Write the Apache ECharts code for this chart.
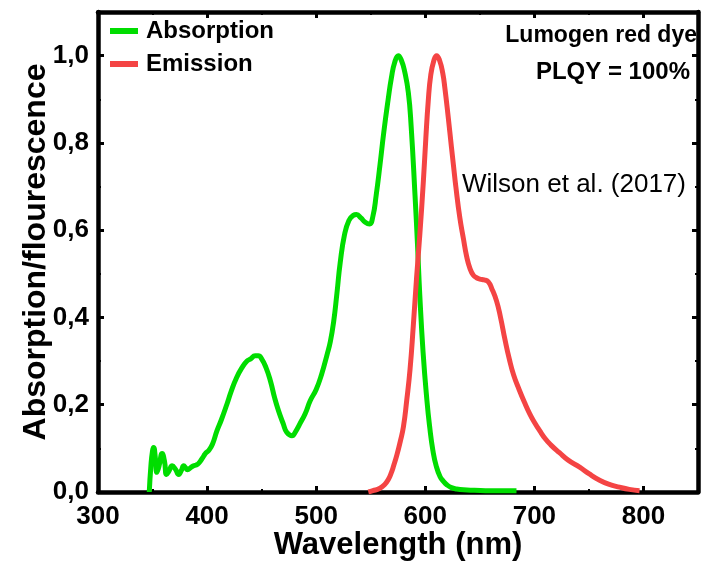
<!DOCTYPE html>
<html>
<head>
<meta charset="utf-8">
<script src="https://cdn.jsdelivr.net/npm/echarts@6/dist/echarts.min.js"></script>
<style>
html,body{margin:0;padding:0;background:#fff;}
#chart{width:709px;height:561px;}
</style>
</head>
<body>
<div id="chart"></div>
<script>
// Absorption spectrum (wavelength nm, normalized)
const absWavelength = [347, 348.5, 350, 351, 352.5, 354, 356, 358.8, 361, 362.8, 365, 368, 371, 374, 376.5, 378.6, 380.5, 382, 385, 387.7, 390, 392, 395, 397, 399, 401.5, 405, 409, 413, 418, 422, 427, 432, 436.6, 440, 444, 447, 450, 454, 458, 462, 465.5, 470, 473, 477.8, 481, 485, 490, 494.5, 500, 505, 510, 513, 516, 519, 522, 526, 530, 534, 537, 541, 545, 548.8, 552, 555, 558.5, 562, 566, 569, 572, 575.3, 578, 581, 584.5, 587, 590.6, 593, 595, 598, 601.5, 604, 607, 610, 613.6, 616.5, 620, 624, 628.7, 635, 645, 660, 683.6];
const absValue = [0.0, 0.06, 0.095, 0.102, 0.08, 0.045, 0.06, 0.088, 0.07, 0.04, 0.048, 0.06, 0.052, 0.04, 0.05, 0.06, 0.055, 0.051, 0.056, 0.06, 0.062, 0.065, 0.075, 0.083, 0.09, 0.095, 0.11, 0.14, 0.165, 0.20, 0.23, 0.262, 0.285, 0.30, 0.305, 0.312, 0.312, 0.305, 0.285, 0.255, 0.215, 0.186, 0.155, 0.137, 0.129, 0.138, 0.156, 0.18, 0.209, 0.235, 0.27, 0.315, 0.345, 0.39, 0.455, 0.525, 0.59, 0.622, 0.634, 0.636, 0.628, 0.618, 0.614, 0.632, 0.68, 0.75, 0.825, 0.90, 0.95, 0.985, 1.0, 0.99, 0.965, 0.915, 0.84, 0.68, 0.56, 0.45, 0.32, 0.21, 0.15, 0.095, 0.06, 0.035, 0.025, 0.016, 0.01, 0.007, 0.005, 0.004, 0.003, 0.003];

// Emission spectrum
const emiWavelength = [547.8, 552, 558, 563, 566, 569, 571, 574, 577, 580, 583, 586, 589, 592, 595, 598.2, 600.5, 602.7, 605, 608, 610.4, 613, 616, 618, 621, 624, 626, 628, 631.7, 635, 637.9, 641, 644, 647, 650, 654, 657.6, 661, 665.3, 669, 673, 677, 681, 686, 691, 696, 700, 705, 710, 715, 723, 731, 741.5, 750, 759.8, 768, 778, 787, 796.4];
const emiValue = [0.0, 0.003, 0.008, 0.018, 0.028, 0.045, 0.06, 0.085, 0.115, 0.15, 0.21, 0.28, 0.38, 0.49, 0.59, 0.71, 0.81, 0.895, 0.955, 0.99, 1.0, 0.99, 0.96, 0.925, 0.86, 0.79, 0.745, 0.70, 0.628, 0.58, 0.54, 0.512, 0.497, 0.491, 0.488, 0.486, 0.482, 0.466, 0.438, 0.40, 0.35, 0.305, 0.268, 0.235, 0.205, 0.178, 0.16, 0.14, 0.122, 0.108, 0.09, 0.073, 0.057, 0.042, 0.027, 0.018, 0.011, 0.006, 0.003];

const seriesNames = ['Absorption', 'Emission'];
const xTicks = [300, 400, 500, 600, 700, 800];
const yTicks = [0.0, 0.2, 0.4, 0.6, 0.8, 1.0];

const GREEN = '#00dd00';
const RED = '#f44444';
const FONT = 'Liberation Sans, Arial, sans-serif';

const absData = absWavelength.map((w, i) => [w, absValue[i]]);
const emiData = emiWavelength.map((w, i) => [w, emiValue[i]]);

const chart = echarts.init(document.getElementById('chart'), null, {renderer: 'canvas'});

const axisLineStyle = {color: '#000', width: 4.5};
const baseX = {
  type: 'value', min: 300, max: 850, interval: 100,
  axisLine: {show: true, onZero: false, lineStyle: axisLineStyle},
  axisTick: {show: true, inside: true, length: 6, lineStyle: {color: '#000', width: 3}},
  minorTick: {show: true, splitNumber: 2, length: 3, lineStyle: {color: '#000', width: 2}},
  splitLine: {show: false}
};
const baseY = {
  type: 'value', min: 0, max: 1.1, interval: 0.2,
  axisLine: {show: true, onZero: false, lineStyle: axisLineStyle},
  axisTick: {show: true, inside: true, length: 6, lineStyle: {color: '#000', width: 3}},
  minorTick: {show: true, splitNumber: 2, length: 3, lineStyle: {color: '#000', width: 2}},
  splitLine: {show: false}
};

chart.setOption({
  animation: false,
  backgroundColor: '#fff',
  grid: {left: 98, right: 11, top: 12, bottom: 69, containLabel: false, outerBoundsMode: 'none'},
  legend: {
    data: seriesNames,
    orient: 'vertical',
    left: 110, top: 19,
    padding: 0,
    itemGap: 9,
    itemWidth: 28, itemHeight: 6,
    icon: 'rect',
    textStyle: {fontFamily: FONT, fontWeight: 'bold', fontSize: 24, color: '#000', lineHeight: 24, padding: [0, 0, 0, 3]}
  },
  xAxis: [
    Object.assign({}, baseX, {
      position: 'bottom',
      name: 'Wavelength (nm)', nameLocation: 'middle', nameGap: 38, nameMoveOverlap: false,
      nameTextStyle: {fontFamily: FONT, fontWeight: 'bold', fontSize: 31, color: '#000'},
      axisLabel: {show: true, margin: 12, fontFamily: FONT, fontWeight: 'bold', fontSize: 26, color: '#000',
        formatter: v => xTicks.includes(v) ? String(v) : ''}
    }),
    Object.assign({}, baseX, {position: 'top', axisLabel: {show: false}})
  ],
  yAxis: [
    Object.assign({}, baseY, {
      position: 'left',
      name: 'Absorption/flourescence', nameLocation: 'middle', nameGap: 46, nameRotate: 90, nameMoveOverlap: false,
      nameTextStyle: {fontFamily: FONT, fontWeight: 'bold', fontSize: 32, color: '#000'},
      axisLabel: {show: true, margin: 9, fontFamily: FONT, fontWeight: 'bold', fontSize: 26, color: '#000',
        formatter: v => {
          const t = yTicks.find(k => Math.abs(k - v) < 1e-6);
          return t === undefined ? '' : t.toFixed(1).replace('.', ',');
        }}
    }),
    Object.assign({}, baseY, {position: 'right', axisLabel: {show: false}})
  ],
  graphic: [
    {type: 'text', right: 12, top: 24, style: {text: 'Lumogen red dye', font: 'bold 23px ' + FONT, fill: '#000'}},
    {type: 'text', right: 19, top: 60, style: {text: 'PLQY = 100%', font: 'bold 24px ' + FONT, fill: '#000'}},
    {type: 'text', left: 462, top: 172, style: {text: 'Wilson et al. (2017)', font: '26px ' + FONT, fill: '#000'}}
  ],
  series: [
    {name: seriesNames[0], type: 'line', xAxisIndex: 0, yAxisIndex: 0, data: absData,
     showSymbol: false, smooth: 0.5, lineStyle: {color: GREEN, width: 5}, itemStyle: {color: GREEN}, z: 2},
    {name: seriesNames[1], type: 'line', xAxisIndex: 0, yAxisIndex: 0, data: emiData,
     showSymbol: false, smooth: 0.5, lineStyle: {color: RED, width: 5}, itemStyle: {color: RED}, z: 3}
  ]
});
</script>
</body>
</html>
